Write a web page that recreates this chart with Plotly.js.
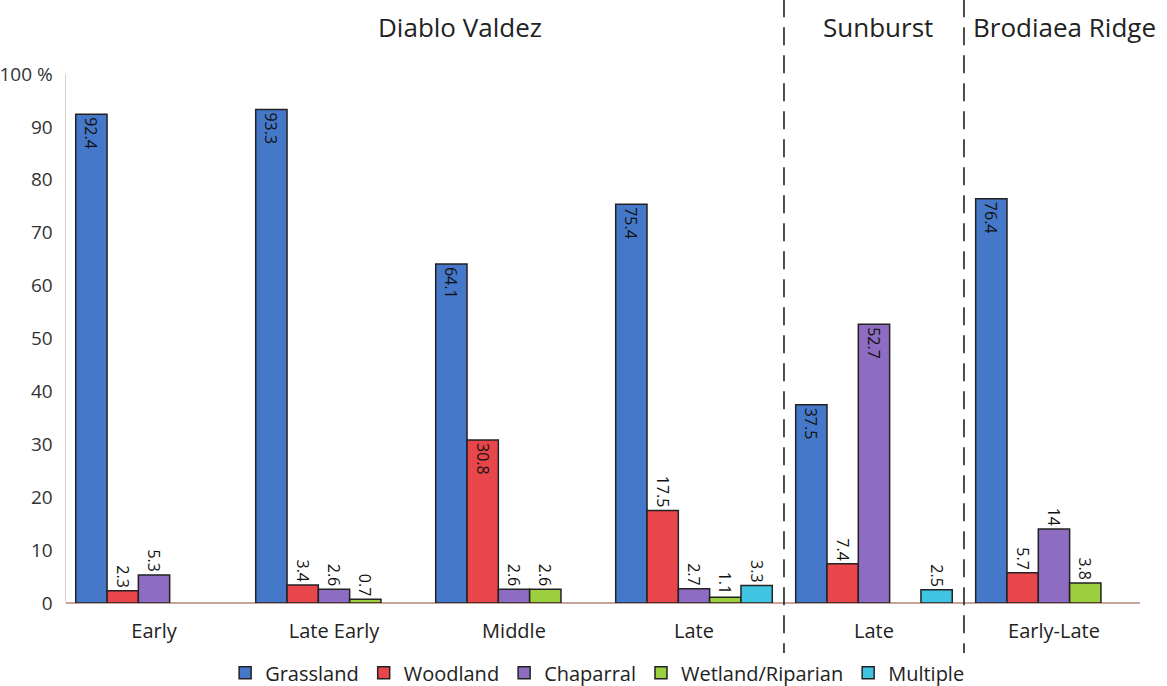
<!DOCTYPE html>
<html>
<head>
<meta charset="utf-8">
<script src="https://cdn.plot.ly/plotly-3.0.1.min.js"></script>
<style>html,body{margin:0;padding:0;background:#fff}#chart{width:1167px;height:686px}</style>
</head>
<body>
<div id="chart"></div>
<script>
// ---- data ----
const categories = ["Early", "Late Early", "Middle", "Late", "Late", "Early-Late"];
const sites = ["Diablo Valdez", "Sunburst", "Brodiaea Ridge"];
const grassland = [92.4, 93.3, 64.1, 75.4, 37.5, 76.4];
const woodland  = [2.3, 3.4, 30.8, 17.5, 7.4, 5.7];
const chaparral = [5.3, 2.6, 2.6, 2.7, 52.7, 14];
const wetland   = [null, 0.7, 2.6, 1.1, null, 3.8];
const multiple  = [null, null, null, 3.3, 2.5, null];
const seriesNames = ["Grassland", "Woodland", "Chaparral", "Wetland/Riparian", "Multiple"];
const yTicks = [0, 10, 20, 30, 40, 50, 60, 70, 80, 90, 100];
const yTickText = ["0", "10", "20", "30", "40", "50", "60", "70", "80", "90", "100 %"];

const colors = ["#4678c9", "#e8464b", "#8e6cc2", "#9ccf3e", "#3fc4e2"];
const xs = categories.map((c, i) => i);
const FONT = "Open Sans, Noto Sans, sans-serif";

function mk(vals, idx) {
  return {
    type: "bar",
    name: seriesNames[idx],
    x: xs,
    y: vals,
    text: vals.map(v => v === null ? "" : String(v)),
    textposition: vals.map(v => v === null ? "none" : (v > 20 ? "inside" : "outside")),
    insidetextanchor: "end",
    textangle: 90,
    textfont: {family: FONT, size: 16, color: "#111"},
    insidetextfont: {family: FONT, size: 16, color: "#111"},
    outsidetextfont: {family: FONT, size: 16, color: "#111"},
    cliponaxis: false,
    constraintext: "none",
    marker: {color: colors[idx], line: {color: "#222", width: 1.5}},
    hoverinfo: "skip"
  };
}

const data = [mk(grassland, 0), mk(woodland, 1), mk(chaparral, 2), mk(wetland, 3), mk(multiple, 4)];

// dividers between site groups
const dividers = [3.5, 4.5];
const shapes = dividers.map(x => ({
  type: "line", xref: "x", yref: "paper", x0: x, x1: x, y0: -0.11, y1: 1.14,
  line: {color: "#222", width: 1.6, dash: "18px,10px"}
}));

const annX = [0.367, 0.756, 0.93];
const annotations = sites.map((s, i) => ({
  text: s, xref: "paper", yref: "paper", x: annX[i], y: 1.088,
  xanchor: "center", yanchor: "middle", showarrow: false,
  font: {family: FONT, size: 26, color: "#222"}
}));

const layout = {
  width: 1167, height: 686,
  margin: {l: 66, r: 27, t: 74, b: 83, autoexpand: false},
  paper_bgcolor: "#fff", plot_bgcolor: "#fff",
  barmode: "group", bargap: 0.13, bargroupgap: 0,
  font: {family: FONT, color: "#222"},
  showlegend: true,
  legend: {orientation: "h", x: 0.495, xanchor: "center", y: -0.095, yanchor: "top",
           font: {family: FONT, size: 20, color: "#222"}, itemwidth: 30, traceorder: "normal"},
  xaxis: {
    range: [-0.489, 5.478], tickmode: "array", tickvals: xs, ticktext: categories,
    showgrid: false, zeroline: false, showline: false, ticks: "", automargin: false,
    tickfont: {family: FONT, size: 20, color: "#222"}, ticklabelstandoff: 14
  },
  yaxis: {
    range: [0, 100], tickmode: "array", tickvals: yTicks, ticktext: yTickText,
    showgrid: false, zeroline: true, zerolinecolor: "#c8a59c", zerolinewidth: 1.5,
    showline: true, linecolor: "#d8d0cc", linewidth: 1.5, ticks: "", automargin: false,
    tickfont: {family: FONT, size: 19, color: "#333"}, ticklabelstandoff: 8
  },
  shapes: shapes,
  annotations: annotations
};

Plotly.newPlot("chart", data, layout, {displayModeBar: false, staticPlot: true});
</script>
</body>
</html>
